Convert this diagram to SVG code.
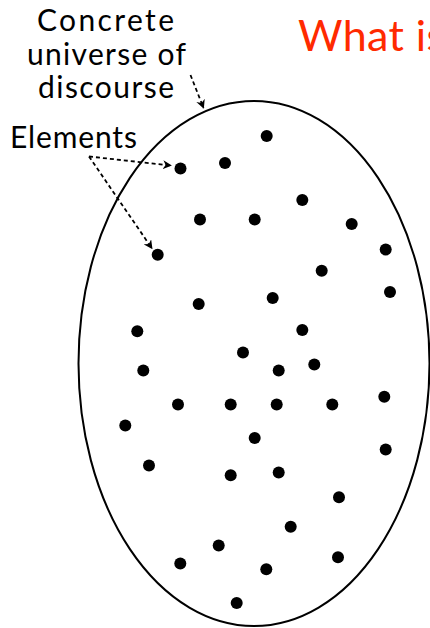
<svg xmlns="http://www.w3.org/2000/svg" width="430" height="628" viewBox="0 0 430 628">
<style>
.lbl{font-family:Lato,"Open Sans","DejaVu Sans",sans-serif;font-size:30px;fill:#000}
.title{font-family:Lato,"Open Sans","DejaVu Sans",sans-serif;font-size:43px;letter-spacing:0.4px;fill:#ff2a00}
.conn{fill:none;stroke:#000;stroke-width:1.8;stroke-dasharray:4 3;marker-end:url(#ah)}
.dot{fill:#000}
</style>
<defs>
<marker id="ah" viewBox="0 0 10 10" refX="9" refY="5" markerWidth="9" markerHeight="9" markerUnits="userSpaceOnUse" orient="auto">
<path d="M0,0 L10,5 L0,10 L3,5 z" fill="#000"/>
</marker>
</defs>
<rect width="430" height="628" fill="#fff"/>
<text class="title" x="298" y="50.7">What is</text>
<g id="universe">
<ellipse cx="254" cy="363.5" rx="175.5" ry="262.5" fill="none" stroke="#000" stroke-width="2"/>
</g>
<g id="label-universe">
<text class="lbl" x="37" y="30.7" textLength="137" lengthAdjust="spacing">Concrete</text>
<text class="lbl" x="27" y="64.5" textLength="159" lengthAdjust="spacing">universe of</text>
<text class="lbl" x="38" y="98.3" textLength="136" lengthAdjust="spacing">discourse</text>
</g>
<g id="label-elements">
<text class="lbl" x="10" y="148.3" textLength="127" lengthAdjust="spacing">Elements</text>
</g>
<g id="elements">
<circle class="dot" cx="266.7" cy="136" r="6"/>
<circle class="dot" cx="225" cy="163" r="6"/>
<circle class="dot" cx="180.5" cy="168.5" r="6"/>
<circle class="dot" cx="302.3" cy="200" r="6"/>
<circle class="dot" cx="200" cy="219.6" r="6"/>
<circle class="dot" cx="254.7" cy="219.6" r="6"/>
<circle class="dot" cx="351.7" cy="224" r="6"/>
<circle class="dot" cx="385.7" cy="249.6" r="6"/>
<circle class="dot" cx="157.7" cy="254.7" r="6"/>
<circle class="dot" cx="321.7" cy="270.8" r="6"/>
<circle class="dot" cx="390" cy="292" r="6"/>
<circle class="dot" cx="272.7" cy="298" r="6"/>
<circle class="dot" cx="198.7" cy="304" r="6"/>
<circle class="dot" cx="137.3" cy="331.2" r="6"/>
<circle class="dot" cx="302.3" cy="330" r="6"/>
<circle class="dot" cx="243" cy="352.4" r="6"/>
<circle class="dot" cx="143.3" cy="370.4" r="6"/>
<circle class="dot" cx="278.7" cy="370.4" r="6"/>
<circle class="dot" cx="314.3" cy="364.4" r="6"/>
<circle class="dot" cx="178" cy="404.4" r="6"/>
<circle class="dot" cx="230.7" cy="404.4" r="6"/>
<circle class="dot" cx="276.7" cy="404.4" r="6"/>
<circle class="dot" cx="332.3" cy="404.4" r="6"/>
<circle class="dot" cx="384.3" cy="396.8" r="6"/>
<circle class="dot" cx="125.3" cy="425.6" r="6"/>
<circle class="dot" cx="254.7" cy="438" r="6"/>
<circle class="dot" cx="385.7" cy="449.6" r="6"/>
<circle class="dot" cx="149" cy="465.6" r="6"/>
<circle class="dot" cx="230.7" cy="475.2" r="6"/>
<circle class="dot" cx="278.7" cy="472.4" r="6"/>
<circle class="dot" cx="339" cy="497.2" r="6"/>
<circle class="dot" cx="290.7" cy="526.8" r="6"/>
<circle class="dot" cx="218.7" cy="545.6" r="6"/>
<circle class="dot" cx="180.3" cy="563.6" r="6"/>
<circle class="dot" cx="266.3" cy="569.2" r="6"/>
<circle class="dot" cx="338" cy="557.2" r="6"/>
<circle class="dot" cx="236.7" cy="603" r="6"/>
</g>
<g id="connectors">
<path class="conn" d="M190.5,75 L203.5,108"/>
<path class="conn" d="M89,156.5 L171,165.5"/>
<path class="conn" d="M89,156.5 L152,248.5"/>
</g>
</svg>
